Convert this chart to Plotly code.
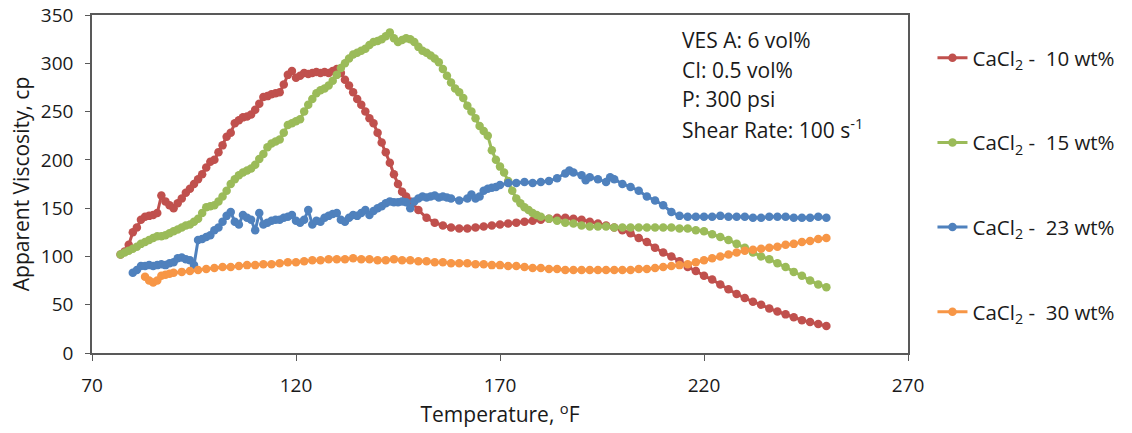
import plotly.graph_objects as go

# ---- data ----
red_T = [77,78,79,80,81,82,83,84,85,86,87,88,89,90,91,92,93,94,95,96,97,98,99,100,
         101,102,103,104,105,106,107,108,109,110,111,112,113,114,115,116,117,118,119,120,
         121,122,123,124,125,126,127,128,129,130,131,132,133,134,135,136,137,138,139,140,
         141,142,143,144,145,146,147,148,150,152,154,156,158,160,162,164,166,168,170,172,
         174,176,178,180,182,184,186,188,190,192,194,196,198,200,202,204,206,208,210,212,
         214,216,218,220,222,224,226,228,230,232,234,236,238,240,242,244,246,248,250]
red_v = [102,105,112,125,130,138,141,142,143,145,163,157,153,150,155,160,166,170,175,180,185,192,198,200,
         208,215,224,228,238,241,244,245,247,252,258,265,266,268,269,270,278,288,292,285,
         287,290,289,290,291,290,291,290,292,294,290,283,277,270,263,257,250,243,238,228,
         218,208,197,185,175,167,162,157,148,140,135,132,130,129,129,130,131,132,133,134,
         135,136,137,138,139,140,140,139,138,136,134,132,130,127,124,119,115,109,104,100,
         95,89,85,80,76,71,66,61,57,53,50,46,43,40,37,34,32,30,28]

green_T = [77,78,79,80,81,82,83,84,85,86,87,88,89,90,91,92,93,94,95,96,97,98,99,100,
           101,102,103,104,105,106,107,108,109,110,111,112,113,114,115,116,117,118,119,120,
           121,122,123,124,125,126,127,128,129,130,131,132,133,134,135,136,137,138,139,140,
           141,142,143,144,145,146,147,148,149,150,151,152,153,154,155,156,157,158,159,160,
           161,162,163,164,165,166,167,168,169,170,171,172,173,174,175,176,177,178,179,180,
           182,184,186,188,190,192,194,196,198,200,202,204,206,208,210,212,214,216,218,220,
           222,224,226,228,230,232,234,236,238,240,242,244,246,248,250]
green_v = [102,104,106,108,110,113,115,117,119,121,121,122,124,126,128,130,132,133,136,139,145,151,152,153,
           157,162,168,175,180,184,187,189,191,195,201,206,213,217,219,221,228,236,238,240,
           242,250,257,263,269,272,274,277,282,288,295,300,305,309,311,313,315,319,322,323,
           325,328,332,326,322,324,326,325,322,317,313,311,308,305,301,294,287,280,274,270,
           264,256,250,243,235,230,225,210,200,193,187,178,168,160,155,151,148,145,143,141,
           139,137,135,134,132,131,131,131,130,130,130,130,130,130,130,130,129,129,127,126,
           123,120,117,113,109,104,100,97,93,89,84,80,75,71,68]

blue_T = [80,81,82,83,84,85,86,87,88,89,90,91,92,93,94,95,96,97,98,99,100,
          101,102,103,104,105,106,107,108,109,110,111,112,113,114,115,116,117,118,119,120,
          121,122,123,124,125,126,127,128,129,130,131,132,133,134,135,136,137,138,139,140,
          141,142,143,144,145,146,147,148,149,150,151,152,153,154,155,156,157,158,160,162,
          163,164,165,166,167,168,169,170,172,174,176,178,180,182,184,186,187,188,190,191,
          192,194,196,197,198,200,202,204,206,208,210,212,214,216,218,220,222,224,226,228,
          230,232,234,236,238,240,242,244,246,248,250]
blue_v = [83,86,90,90,91,90,91,92,91,93,94,98,99,97,96,91,117,118,120,122,127,
          130,136,142,146,136,133,143,140,138,127,145,133,135,137,138,138,140,141,143,137,
          135,138,148,133,137,136,140,142,144,145,138,136,140,143,142,145,148,143,147,150,
          152,155,157,156,156,157,156,150,157,160,162,161,162,163,161,162,161,160,158,160,
          164,160,162,168,170,171,172,174,176,176,177,176,177,178,181,186,189,187,184,179,
          182,180,177,182,180,175,172,168,162,158,153,146,142,141,141,141,141,142,141,141,
          141,140,140,141,141,141,140,140,140,141,140]

orange_T = [83,84,85,86,87,88,89,90,92,94,96,98,100,102,104,106,108,110,112,114,116,118,120,
            122,124,126,128,130,132,134,136,138,140,142,144,146,148,150,152,154,156,158,160,
            162,164,166,168,170,172,174,176,178,180,182,184,186,188,190,192,194,196,198,200,
            202,204,206,208,210,212,214,216,218,220,222,224,226,228,230,232,234,236,238,240,
            242,244,246,248,250]
orange_v = [79,75,73,75,80,81,82,83,84,85,86,87,88,89,89,90,91,91,92,92,93,94,94,
            95,96,96,97,97,97,98,97,97,96,96,97,96,96,95,95,94,94,93,93,
            93,92,92,91,91,90,90,89,88,88,87,87,86,86,86,86,86,86,86,86,
            86,87,87,88,89,90,91,92,94,96,98,100,102,104,106,107,108,109,110,112,
            113,115,116,118,119]

series_names = ["CaCl<sub>2</sub> -  10 wt%", "CaCl<sub>2</sub> -  15 wt%",
                "CaCl<sub>2</sub> -  23 wt%", "CaCl<sub>2</sub> -  30 wt%"]
series_T = [red_T, green_T, blue_T, orange_T]
series_v = [red_v, green_v, blue_v, orange_v]
colors = ["#C0504D", "#9BBB59", "#4F81BD", "#F79646"]

x_ticks = [70, 120, 170, 220, 270]
y_ticks = [0, 50, 100, 150, 200, 250, 300, 350]

note_lines = ["VES A: 6 vol%", "CI: 0.5 vol%", "P: 300 psi", "Shear Rate: 100 s<sup>-1</sup>"]

FONT = "'Open Sans', Lato, sans-serif"
TXT = "#1a1a1a"

fig = go.Figure()
for i, (name, T, v, c) in enumerate(zip(series_names, series_T, series_v, colors)):
    fig.add_trace(go.Scatter(
        x=T, y=v, mode="lines+markers", name=name,
        legendgroup=f"g{i}",
        line=dict(color=c, width=3),
        marker=dict(color=c, size=8.5),
    ))

axis_col = "#595959"
fig.update_layout(
    width=1132, height=433,
    margin=dict(l=92, r=224, t=15, b=80, autoexpand=False),
    paper_bgcolor="white", plot_bgcolor="white",
    font=dict(family=FONT, size=19, color=TXT),
    showlegend=True,
    legend=dict(
        x=1.03, xanchor="left", y=0.932, yanchor="top",
        tracegroupgap=55, font=dict(size=20.5, family=FONT, color=TXT),
        itemwidth=30, bgcolor="rgba(0,0,0,0)",
    ),
    xaxis=dict(
        range=[70, 270], tickvals=x_ticks, ticktext=[str(t) for t in x_ticks],
        showgrid=False, zeroline=False, automargin=False,
        showline=True, linecolor=axis_col, linewidth=1.5, mirror=True,
        ticks="outside", ticklen=6, tickcolor=axis_col,
        tickfont=dict(size=19), ticklabelstandoff=8,
        title=dict(text="Temperature, <sup>o</sup>F", font=dict(size=21), standoff=4),
    ),
    yaxis=dict(
        range=[0, 350], tickvals=y_ticks,
        showgrid=False, zeroline=False, automargin=False,
        showline=True, linecolor=axis_col, linewidth=1.5, mirror=True,
        ticks="outside", ticklen=5, tickcolor=axis_col,
        tickfont=dict(size=19), ticklabelstandoff=8,
        title=dict(text="Apparent Viscosity, cp", font=dict(size=21), standoff=6),
    ),
)

for k, line in enumerate(note_lines):
    fig.add_annotation(
        xref="paper", yref="paper", x=0.72, y=(353 - (40 + 29.5 * k)) / 338,
        xanchor="left", yanchor="middle", align="left", showarrow=False,
        text=line, font=dict(size=21, family=FONT, color=TXT),
    )

fig.write_html("out.html")
